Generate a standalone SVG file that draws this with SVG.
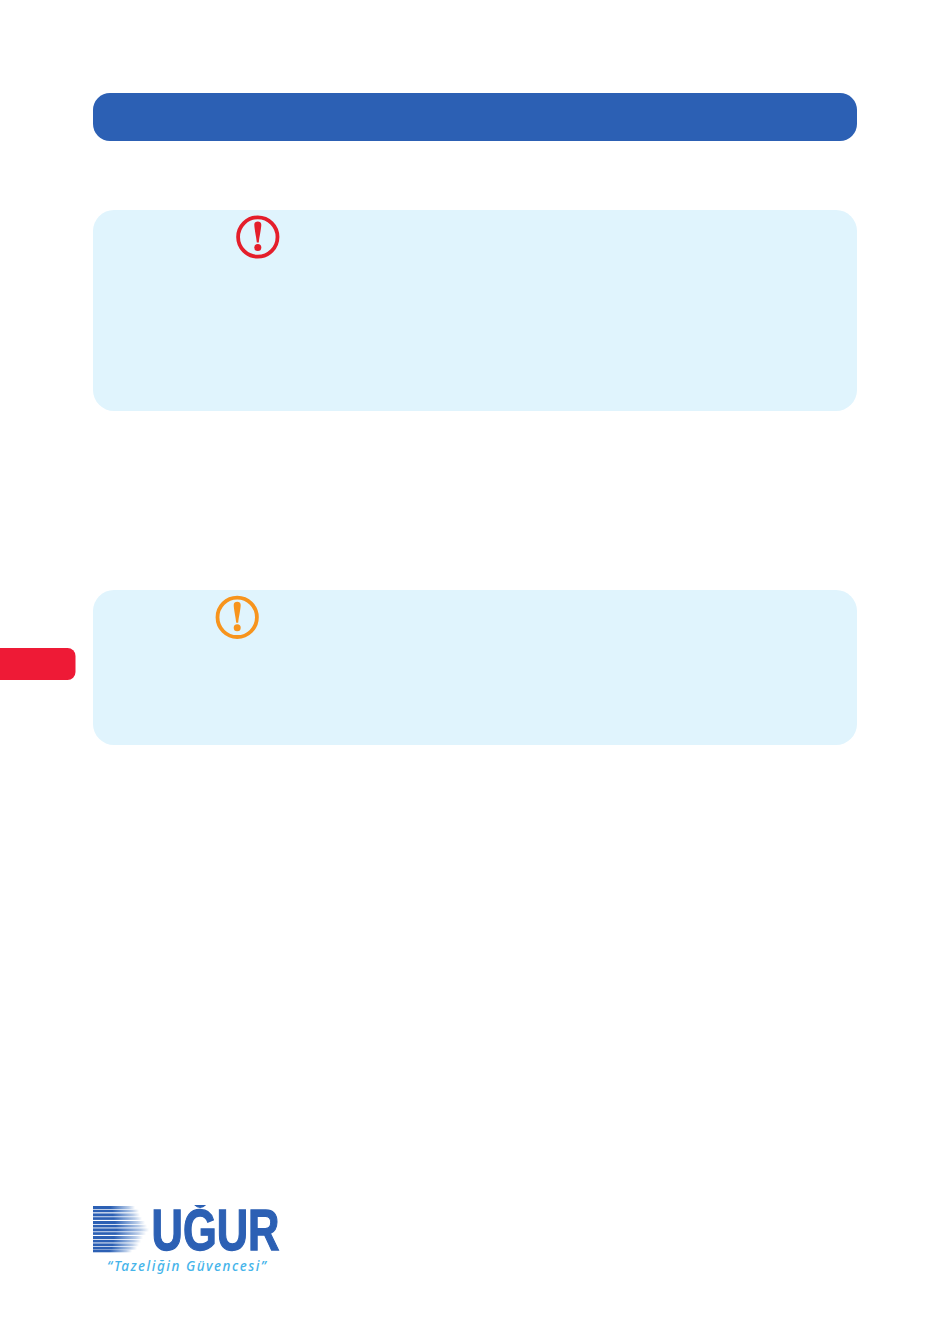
<svg xmlns="http://www.w3.org/2000/svg" width="950" height="1334" viewBox="0 0 950 1334">
<style>
.panel{fill:#e0f4fd}
.stripe{fill:url(#fade)}
.word{font-family:"Liberation Sans",Arial,sans-serif;font-weight:700;fill:#2c60b4;stroke:#2c60b4;stroke-width:1.300}
.tag{font-family:"Noto Sans","Liberation Sans",sans-serif;font-style:italic;font-weight:500;fill:#45b4ea}
</style>
<defs>
<linearGradient id="fade" x1="0" x2="1" y1="0" y2="0">
<stop offset="0" stop-color="#2c60b4"/><stop offset="0.42" stop-color="#2c60b4"/><stop offset="0.62" stop-color="#6f95cf"/><stop offset="0.85" stop-color="#b9cce8"/><stop offset="1" stop-color="#ffffff"/>
</linearGradient>
<g id="alert">
<circle cx="0" cy="0" r="19.700" fill="none" stroke="currentColor" stroke-width="3.800"/>
<path d="M-3.500-12.200C-3.500-14.800-1.900-15.600 0-15.600S3.500-14.800 3.500-12.200C3.500-8.500 1.500 0 1 5.400H-1C-1.500 0-3.500-8.500-3.500-12.200Z" fill="currentColor"/>
<circle cx="0" cy="10.500" r="3.500" fill="currentColor"/>
</g>
<clipPath id="wordclip"><rect x="148" y="1205" width="135" height="50"/></clipPath>
</defs>
<rect width="950" height="1334" fill="#ffffff"/>
<g id="header"><rect x="93" y="93" width="764" height="48" rx="17" fill="#2c60b4"/></g>
<g id="panel-danger">
<rect class="panel" x="93" y="210" width="764" height="201" rx="21"/>
<use href="#alert" x="257.800" y="237" color="#e41e2b"/>
</g>
<g id="panel-warning">
<rect class="panel" x="93" y="590" width="764" height="155" rx="21"/>
<use href="#alert" x="237.200" y="617.300" color="#f7941d"/>
</g>
<g id="side-tab"><rect x="-20" y="648" width="95.500" height="32" rx="8" fill="#ee1a36"/></g>
<g id="logo">
<g id="logo-mark">
<rect class="stripe" x="93" y="1206" width="42" height="3"/>
<rect class="stripe" x="93" y="1209.700" width="46" height="2.600"/>
<rect class="stripe" x="93" y="1213.400" width="47" height="3"/>
<rect class="stripe" x="93" y="1217.200" width="49" height="2.700"/>
<rect class="stripe" x="93" y="1221" width="52" height="3"/>
<rect class="stripe" x="93" y="1224.800" width="54" height="2.700"/>
<rect class="stripe" x="93" y="1228.400" width="56" height="3"/>
<rect class="stripe" x="93" y="1232.200" width="53" height="2.700"/>
<rect class="stripe" x="93" y="1236" width="50" height="3"/>
<rect class="stripe" x="93" y="1239.800" width="48" height="2.700"/>
<rect class="stripe" x="93" y="1243.400" width="46" height="2.900"/>
<rect class="stripe" x="93" y="1247" width="44" height="2.600"/>
<rect class="stripe" x="93" y="1250" width="39" height="2.300"/>
</g>
<text class="word" x="151.500" y="1249.500" font-size="57" textLength="128" lengthAdjust="spacingAndGlyphs" clip-path="url(#wordclip)">UĞUR</text>
<text class="tag" x="107" y="1271" font-size="13.500" textLength="159" lengthAdjust="spacing">“Tazeliğin Güvencesi”</text>
</g>
</svg>
